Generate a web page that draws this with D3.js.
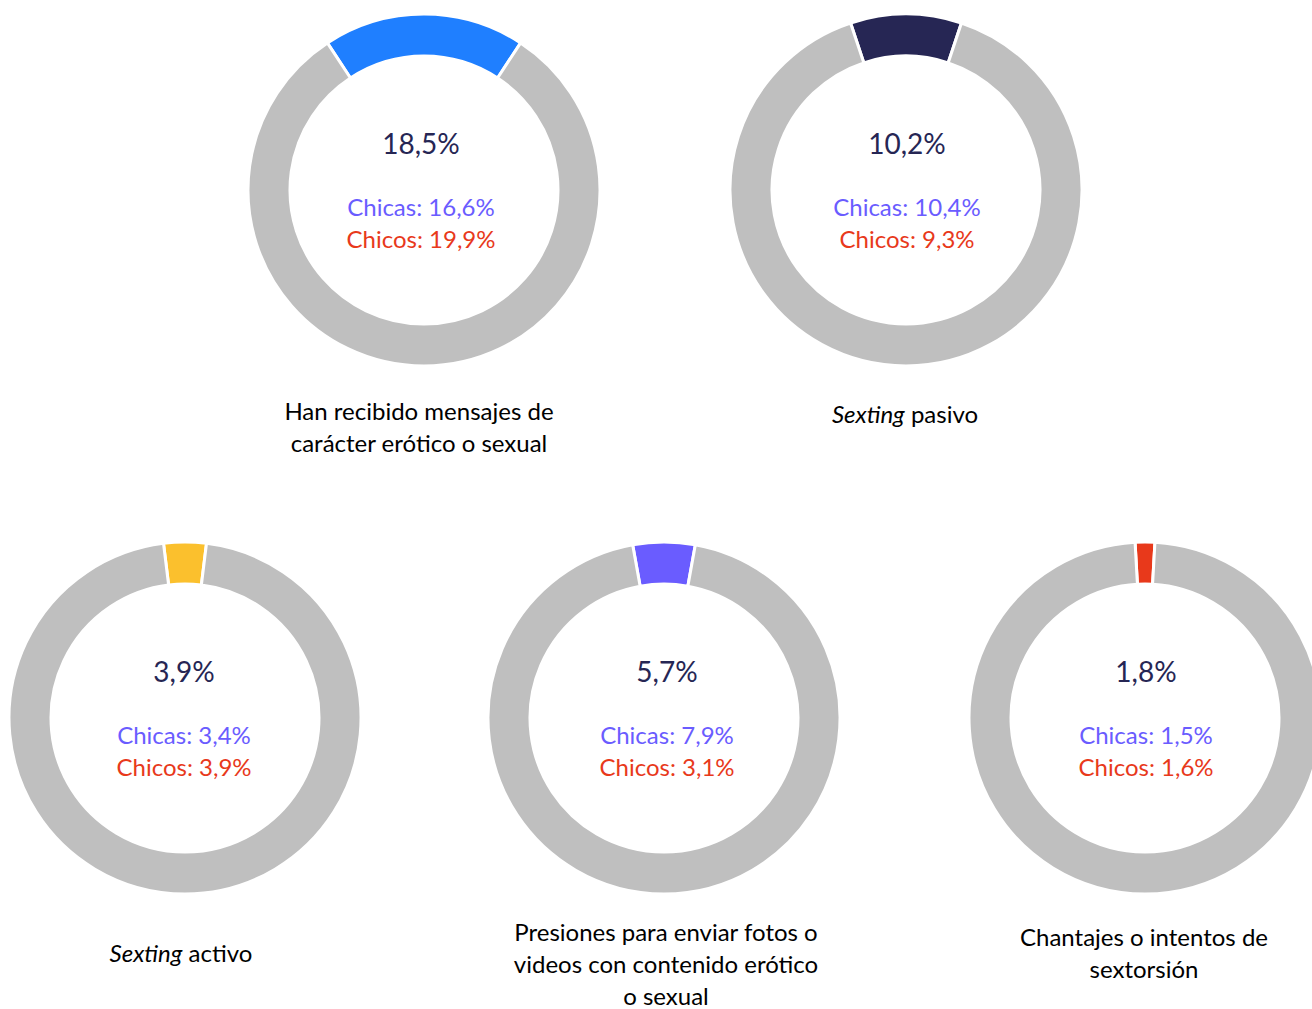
<!DOCTYPE html>
<html>
<head>
<meta charset="utf-8">
<script src="https://cdn.jsdelivr.net/npm/d3@7"></script>
<style>
  html, body { margin: 0; padding: 0; background: #fff; overflow: hidden; }
  svg { display: block; }
</style>
</head>
<body>
<svg id="chart" width="1312" height="1009"></svg>
<script>
// ---- data ----
const categories = [
  ["Han recibido mensajes de", "carácter erótico o sexual"],
  ["<i>Sexting</i> pasivo"],
  ["<i>Sexting</i> activo"],
  ["Presiones para enviar fotos o", "videos con contenido erótico", "o sexual"],
  ["Chantajes o intentos de", "sextorsión"]
];
const totalValues  = [18.5, 10.2, 3.9, 5.7, 1.8];
const chicasValues = [16.6, 10.4, 3.4, 7.9, 1.5];
const chicosValues = [19.9, 9.3, 3.9, 3.1, 1.6];
const segmentColors = ["#1F7FFF", "#262654", "#FBC02D", "#6A5CFF", "#E8391B"];

// ---- layout ----
const centers = [[424, 190], [906, 190], [185, 718], [664, 718], [1145, 718]];
const textDx = [-3, 1, -1, 3, 1];
const labelY = [412, 415, 954, 933, 938];
const labelDx = [-5, -1, -4, 2, -1];
const outerR = 176, innerR = 134;
const fmt = v => v.toFixed(1).replace(".", ",") + "%";
const svg = d3.select("#chart");
const arc = d3.arc().innerRadius(innerR).outerRadius(outerR);
const font = "Lato, 'Open Sans', sans-serif";

totalValues.forEach((v, i) => {
  const [cx, cy] = centers[i];
  const half = Math.PI * v / 100;
  const pie = d3.pie().sort(null).value(d => d)
    .startAngle(-half).endAngle(2 * Math.PI - half);
  const g = svg.append("g").attr("transform", `translate(${cx},${cy})`);
  g.selectAll("path").data(pie([v, 100 - v])).join("path")
    .attr("d", arc)
    .attr("fill", (d, j) => j === 0 ? segmentColors[i] : "#BFBFBF")
    .attr("stroke", "#fff").attr("stroke-width", 3);

  const tx = textDx[i];
  g.append("text").attr("x", tx).attr("y", -36)
    .attr("text-anchor", "middle").attr("font-family", font)
    .attr("font-size", 28).attr("fill", "#262654")
    .text(fmt(v));
  g.append("text").attr("x", tx).attr("y", 26)
    .attr("text-anchor", "middle").attr("font-family", font)
    .attr("font-size", 24).attr("fill", "#6A5CFF")
    .text("Chicas: " + fmt(chicasValues[i]));
  g.append("text").attr("x", tx).attr("y", 58)
    .attr("text-anchor", "middle").attr("font-family", font)
    .attr("font-size", 24).attr("fill", "#E8391B")
    .text("Chicos: " + fmt(chicosValues[i]));

  categories[i].forEach((line, k) => {
    const t = svg.append("text")
      .attr("x", cx + labelDx[i]).attr("y", labelY[i] + 8 + k * 32)
      .attr("text-anchor", "middle").attr("font-family", font)
      .attr("font-size", 24).attr("fill", "#000");
    const m = line.match(/^<i>(.*)<\/i>(.*)$/);
    if (m) {
      t.append("tspan").attr("font-style", "italic").text(m[1]);
      t.append("tspan").text(m[2]);
    } else {
      t.text(line);
    }
  });
});
</script>
</body>
</html>
